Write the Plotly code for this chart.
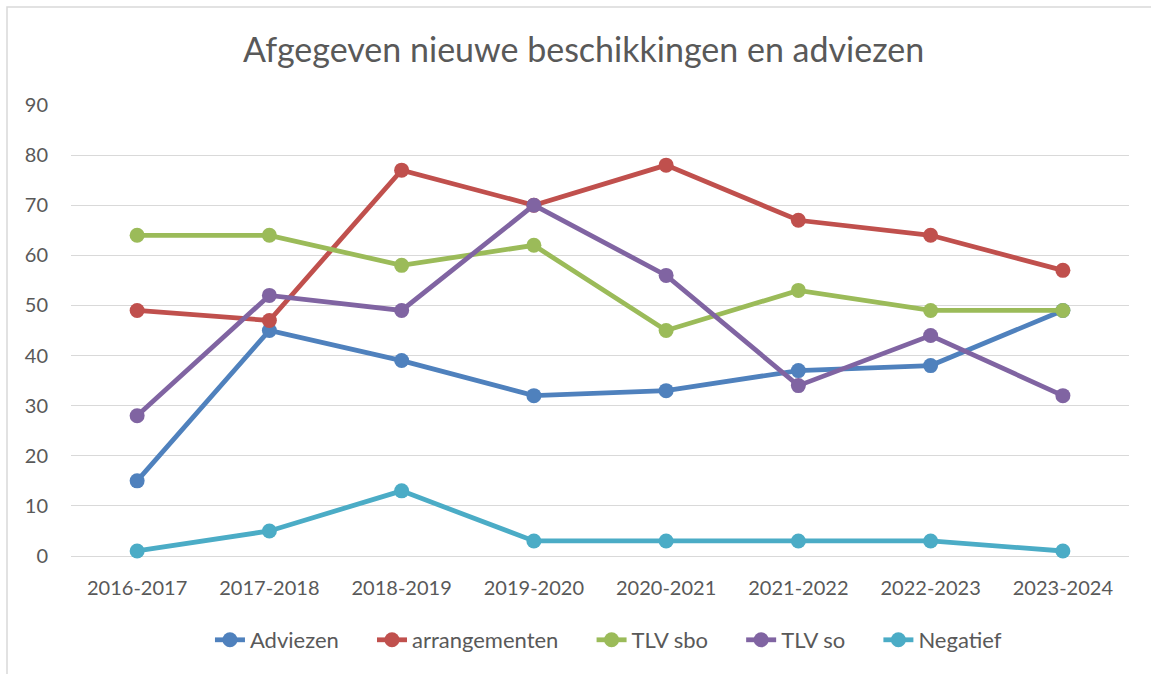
import plotly.graph_objects as go

categories = ["2016-2017", "2017-2018", "2018-2019", "2019-2020", "2020-2021",
              "2021-2022", "2022-2023", "2023-2024"]
adviezen = [15, 45, 39, 32, 33, 37, 38, 49]
arrangementen = [49, 47, 77, 70, 78, 67, 64, 57]
tlv_sbo = [64, 64, 58, 62, 45, 53, 49, 49]
tlv_so = [28, 52, 49, 70, 56, 34, 44, 32]
negatief = [1, 5, 13, 3, 3, 3, 3, 1]

series = [
    ("Adviezen", adviezen, "#4F81BD"),
    ("arrangementen", arrangementen, "#C0504D"),
    ("TLV sbo", tlv_sbo, "#9BBB59"),
    ("TLV so", tlv_so, "#8064A2"),
    ("Negatief", negatief, "#4BACC6"),
]

FONT = "Lato, 'Open Sans', sans-serif"
GREY = "#595959"
PAD = "\u00a0" * 5

fig = go.Figure()
for i, (name, vals, color) in enumerate(series):
    fig.add_trace(go.Scatter(
        x=categories, y=vals, name=name + (PAD if i < len(series) - 1 else ""),
        mode="lines+markers",
        line=dict(color=color, width=4.8),
        marker=dict(color=color, size=15),
        cliponaxis=False,
    ))

# plot area: x 71..1129, y 105..556
PW, PH = 1058, 451
fig.update_layout(
    width=1151, height=674,
    paper_bgcolor="white", plot_bgcolor="white",
    margin=dict(l=71, r=22, t=105, b=118, autoexpand=False),
    title=dict(text="Afgegeven nieuwe beschikkingen en adviezen",
               x=0.507, xanchor="center", y=1 - 50 / 674, yanchor="middle",
               font=dict(family=FONT, size=34, color=GREY)),
    font=dict(family=FONT, size=20, color=GREY),
    showlegend=True,
    legend=dict(orientation="h", x=0.508, xanchor="center", yref="container",
                y=(674 - 640) / 674, yanchor="middle",
                font=dict(size=22, color=GREY), tracegroupgap=0),
    xaxis=dict(type="category", range=[-0.5, 7.5], showgrid=False, showline=False,
               automargin=False,
               ticks="", tickfont=dict(size=20, color=GREY), ticklabelstandoff=18),
    yaxis=dict(range=[0, 90], dtick=10, showgrid=True, gridcolor="#D9D9D9", gridwidth=1.3,
               automargin=False,
               zeroline=True, zerolinecolor="#D9D9D9", zerolinewidth=1.3, showline=False,
               ticks="", tickfont=dict(size=20, color=GREY), ticklabelstandoff=22),
    shapes=[dict(type="rect", xref="paper", yref="paper",
                 x0=(7 - 71) / PW, x1=1.1, y0=-0.5, y1=(556 - 7) / PH,
                 line=dict(color="#D9D9D9", width=1.5), fillcolor="rgba(0,0,0,0)",
                 layer="below")],
)

fig.write_html("out.html", config={"displayModeBar": False},
               post_script="document.body.style.margin='0';document.body.style.overflow='hidden';")
